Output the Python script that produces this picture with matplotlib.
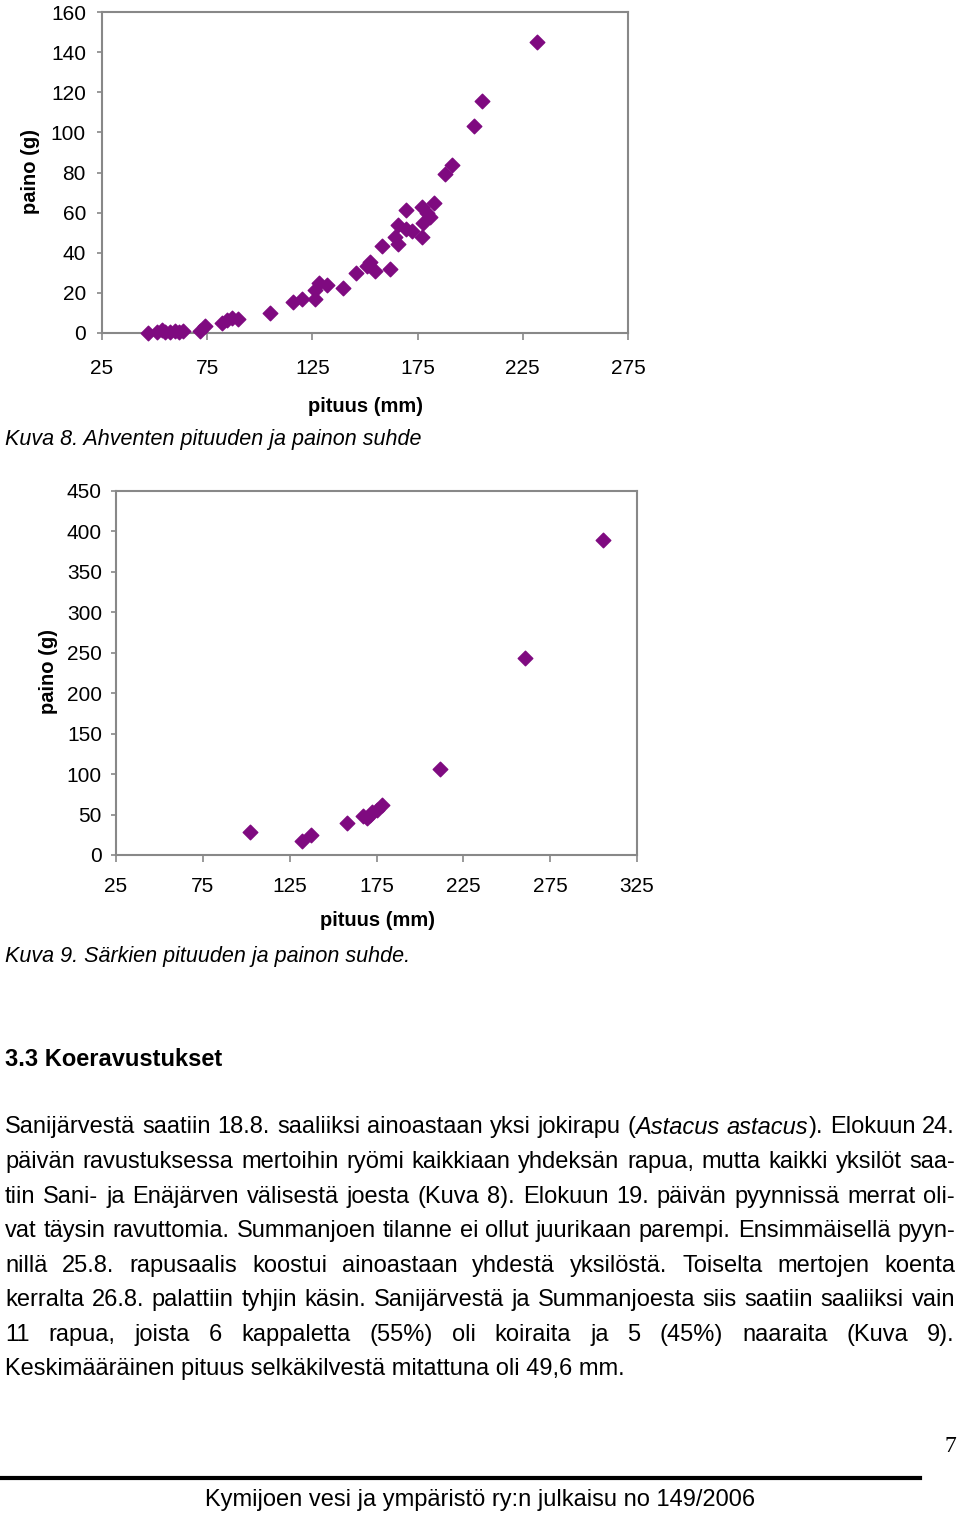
import matplotlib
matplotlib.use("Agg")
import matplotlib.pyplot as plt

plt.rcParams['font.family'] = ['Liberation Sans', 'DejaVu Sans']

# Kuva 8: ahven (perch), length mm / weight g
perch_len = [47.0, 51.3, 53.5, 55.0, 57.5, 59.5, 61.5, 63.5,
             71.6, 74.0, 81.9, 84.3, 86.6, 89.8, 104.8,
             115.6, 119.9, 126.2, 126.2, 128.3, 131.8, 139.7,
             145.7, 150.8, 152.3, 154.7, 157.9, 161.9, 164.3, 165.5, 165.5,
             169.5, 169.5, 172.2, 177.0, 177.0, 177.7, 179.3, 180.9, 182.9,
             188.0, 191.5, 202.0, 205.8, 231.9]
perch_wt = [0.0, 0.5, 1.5, 0.5, 0.5, 0.8, 0.5, 1.0,
            1.1, 3.5, 4.8, 6.5, 7.3, 6.8, 9.8,
            15.6, 16.8, 16.8, 21.4, 25.0, 23.9, 22.2,
            30.0, 33.3, 35.4, 30.9, 43.4, 32.1, 47.7, 44.3, 53.8,
            61.1, 51.8, 51.0, 47.7, 62.8, 54.8, 59.6, 57.8, 64.8,
            79.3, 83.9, 103.3, 115.8, 145.2]

# Kuva 9: särki (roach)
roach_len = [102.2, 131.9, 137.1, 157.8, 167.5, 169.4, 171.0, 172.2, 175.5, 178.0,
             211.6, 260.5, 305.4]
roach_wt = [28.8, 17.7, 24.7, 39.9, 48.5, 45.3, 50.0, 53.5, 56.0, 61.8,
            106.3, 243.5, 389.4]

body_lines = [
    [[("Sanijärvestä", 0)], [("saatiin", 0)], [("18.8.", 0)], [("saaliiksi", 0)],
     [("ainoastaan", 0)], [("yksi", 0)], [("jokirapu", 0)], [("(", 0), ("Astacus", 1)],
     [("astacus", 1), (").", 0)], [("Elokuun", 0)], [("24.", 0)]],
    "päivän ravustuksessa mertoihin ryömi kaikkiaan yhdeksän rapua, mutta kaikki yksilöt saa-",
    "tiin Sani- ja Enäjärven välisestä joesta (Kuva 8). Elokuun 19. päivän pyynnissä merrat oli-",
    "vat täysin ravuttomia. Summanjoen tilanne ei ollut juurikaan parempi. Ensimmäisellä pyyn-",
    "nillä 25.8. rapusaalis koostui ainoastaan yhdestä yksilöstä. Toiselta mertojen koenta",
    "kerralta 26.8. palattiin tyhjin käsin. Sanijärvestä ja Summanjoesta siis saatiin saaliiksi vain",
    "11 rapua, joista 6 kappaletta (55%) oli koiraita ja 5 (45%) naaraita (Kuva 9).",
    "Keskimääräinen pituus selkäkilvestä mitattuna oli 49,6 mm.",
]

W, H = 960, 1515
fig = plt.figure(figsize=(W / 100, H / 100), dpi=100)
purple = "#7f0a80"


def box(l, t, r, b):
    return [l / W, 1 - b / H, (r - l) / W, (b - t) / H]


def txt(x, y, s, **kw):
    kw.setdefault("va", "center")
    return fig.text(x / W, 1 - y / H, s, **kw)


def style_ax(ax, xticks, yticks, xpad, ypad):
    ax.set_xticks(xticks)
    ax.set_yticks(yticks)
    for sp in ax.spines.values():
        sp.set_color("#888888")
        sp.set_linewidth(1.5)
    ax.tick_params(axis="x", direction="out", length=5, width=1.2, color="#888888",
                   labelsize=15, pad=xpad)
    ax.tick_params(axis="y", direction="out", length=3.6, width=1.2, color="#888888",
                   labelsize=15, pad=ypad)


ax1 = fig.add_axes(box(102, 12, 628, 333))
ax1.scatter(perch_len, perch_wt, marker="D", s=55, color=purple, zorder=3, clip_on=False)
ax1.set_xlim(25, 275)
ax1.set_ylim(0, 160)
style_ax(ax1, range(25, 276, 50), range(0, 161, 20), 14, 8)
txt(30, 172, "paino (g)", rotation=90, ha="center", fontsize=14.5, fontweight="bold")
txt(365, 407, "pituus (mm)", ha="center", fontsize=14.5, fontweight="bold")
txt(5, 439, "Kuva 8. Ahventen pituuden ja painon suhde", fontsize=15.5, style="italic")

ax2 = fig.add_axes(box(116, 491, 637, 855))
ax2.scatter(roach_len, roach_wt, marker="D", s=55, color=purple, zorder=3, clip_on=False)
ax2.set_xlim(25, 325)
ax2.set_ylim(0, 450)
style_ax(ax2, range(25, 326, 50), range(0, 451, 50), 10.5, 6.5)
txt(48, 672, "paino (g)", rotation=90, ha="center", fontsize=14.5, fontweight="bold")
txt(377, 920, "pituus (mm)", ha="center", fontsize=14.5, fontweight="bold")
txt(5, 956, "Kuva 9. Särkien pituuden ja painon suhde.", fontsize=15.5, style="italic")

txt(5, 1059, "3.3 Koeravustukset", fontsize=17, fontweight="bold")

# justified body text
renderer = fig.canvas.get_renderer()
fs = 17
x0, x1 = 5, 955
ys = [1127, 1162, 1197, 1231, 1266, 1300, 1335, 1369]
for i, line in enumerate(body_lines):
    y = ys[i]
    if isinstance(line, str):
        words = [[(w, 0)] for w in line.split(" ")]
    else:
        words = line
    last = i == len(body_lines) - 1
    if last:
        txt(x0, y, " ".join(p for w in words for p, _ in w), fontsize=fs)
        continue
    placed = []
    total = 0
    for w in words:
        pieces = []
        for p, it in w:
            t = txt(0, y, p, fontsize=fs, style="italic" if it else "normal")
            wd = t.get_window_extent(renderer).width
            pieces.append((t, wd))
            total += wd
        placed.append(pieces)
    gap = (x1 - x0 - total) / (len(words) - 1)
    x = x0
    for pieces in placed:
        for t, wd in pieces:
            t.set_x(x / W)
            x += wd
        x += gap

fig.text(950 / W, 1 - 1446 / H, "7", fontsize=17, family="Liberation Serif",
         ha="center", va="center")
fig.add_artist(plt.Line2D([0, 920 / W], [1 - 1478 / H] * 2, color="black", lw=3))
txt(480, 1500, "Kymijoen vesi ja ympäristö ry:n julkaisu no 149/2006", ha="center",
    fontsize=17)

fig.savefig("out.png", dpi=100)
